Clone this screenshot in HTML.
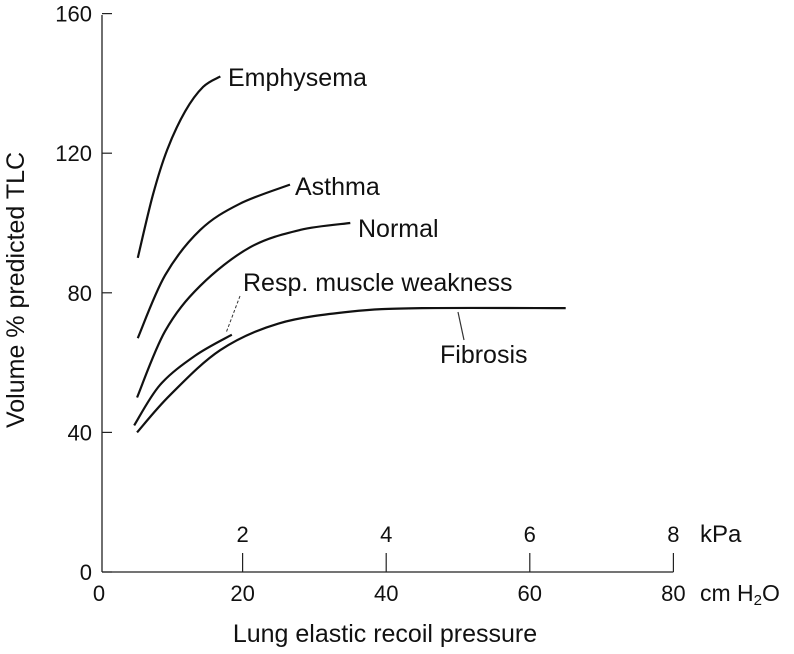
<!DOCTYPE html>
<html><head><meta charset="utf-8"><style>
body{margin:0;background:#fff;}
svg{display:block;font-family:"Liberation Sans",sans-serif;}
text{fill:#111;}
</style></head><body>
<svg id="chart" width="794" height="654" viewBox="0 0 794 654"></svg>
<script>
const yTicks=[0,40,80,120,160];
const xTicksCm=[0,20,40,60,80];
const xTicksKpa=[2,4,6,8];
const seriesNames=["Emphysema","Asthma","Normal","Resp. muscle weakness","Fibrosis"];
const emphysemaX=[5.4,7.5,9.5,12,14.5,16.9];
const emphysemaY=[90,108,121,132,139,142];
const asthmaX=[5.4,9.2,14.1,19.6,26.6];
const asthmaY=[67,85,98,105.5,111];
const normalX=[5.3,9.2,14.1,21,28,35];
const normalY=[50,69,82,93,98,100];
const weaknessX=[4.9,8.5,13.4,18.5];
const weaknessY=[42,53.6,62,68];
const fibrosisX=[5.3,9.9,16.9,25,35,45,65];
const fibrosisY=[40,50.7,63.6,71.2,74.6,75.6,75.6];

const NS="http://www.w3.org/2000/svg";
const svg=document.getElementById('chart');
const X0=99,XS=7.18,Y0=572,YS=3.49;
const sx=v=>X0+v*XS, sy=v=>Y0-v*YS;
function el(t,a,txt){const e=document.createElementNS(NS,t);for(const k in a)e.setAttribute(k,a[k]);if(txt!==undefined)e.textContent=txt;svg.appendChild(e);return e;}

let e=el('line',{x1:102,y1:15,x2:102,y2:Y0,stroke:'#222','stroke-width':1.3});


e=el('line',{x1:102,y1:Y0,x2:sx(80),y2:Y0,stroke:'#222','stroke-width':1.3});


yTicks.forEach(v=>{
 const t=el('line',{x1:102,y1:sy(v),x2:112,y2:sy(v),stroke:'#222','stroke-width':1.2});
 
 
 const l=el('text',{x:92,y:sy(v)+8,'text-anchor':'end','font-size':22},String(v));
 
 
});
xTicksCm.forEach(v=>{
 const l=el('text',{x:sx(v),y:601,'text-anchor':'middle','font-size':22},String(v));
 
 
});
xTicksKpa.forEach(v=>{
 const x=sx(v*10);
 const t=el('line',{x1:x,y1:553,x2:x,y2:Y0,stroke:'#222','stroke-width':1.2});
 
 
 const l=el('text',{x:x,y:542,'text-anchor':'middle','font-size':22},String(v));
 
 
});
e=el('text',{x:700,y:542,'font-size':24},'kPa');


e=el('text',{x:700,y:601,'font-size':23},'cm H');


const ts=document.createElementNS(NS,'tspan');ts.setAttribute('font-size',15);ts.setAttribute('dy',4);ts.textContent='2';e.appendChild(ts);
const ts2=document.createElementNS(NS,'tspan');ts2.setAttribute('dy',-4);ts2.textContent='O';e.appendChild(ts2);
e=el('text',{x:385,y:642,'text-anchor':'middle','font-size':25},'Lung elastic recoil pressure');


e=el('text',{x:0,y:0,'text-anchor':'middle','font-size':25,transform:'translate(24,290) rotate(-90)'},'Volume % predicted TLC');



function smooth(xs,ys){
 const p=xs.map((x,i)=>[sx(x),sy(ys[i])]);
 let d='M'+p[0][0]+' '+p[0][1];
 for(let i=0;i<p.length-1;i++){
  const p0=p[i-1]||p[i],p1=p[i],p2=p[i+1],p3=p[i+2]||p2;
  const c1=[p1[0]+(p2[0]-p0[0])/6,p1[1]+(p2[1]-p0[1])/6];
  const c2=[p2[0]-(p3[0]-p1[0])/6,p2[1]-(p3[1]-p1[1])/6];
  d+=` C${c1[0]} ${c1[1]} ${c2[0]} ${c2[1]} ${p2[0]} ${p2[1]}`;
 }
 return d;
}
const curves=[[emphysemaX,emphysemaY,'emphysema-curve'],[asthmaX,asthmaY,'asthma-curve'],[normalX,normalY,'normal-curve'],[weaknessX,weaknessY,'resp-muscle-weakness-curve'],[fibrosisX,fibrosisY,'fibrosis-curve']];
curves.forEach(c=>{
 const p=el('path',{d:smooth(c[0],c[1]),fill:'none',stroke:'#111','stroke-width':2.2});
 
 
});
const labelPos=[[228,86],[295,195],[358,237],[243,291],[440,363]];
const labelNames=['emphysema-label','asthma-label','normal-label','resp-muscle-weakness-label','fibrosis-label'];
seriesNames.forEach((n,i)=>{
 const t=el('text',{x:labelPos[i][0],y:labelPos[i][1],'font-size':25},n);
 
 
});
e=el('line',{x1:240,y1:296,x2:226,y2:333,stroke:'#333','stroke-width':1,'stroke-dasharray':'3 2'});


e=el('line',{x1:464,y1:340,x2:458,y2:312,stroke:'#333','stroke-width':1.2});


</script>
</body></html>
